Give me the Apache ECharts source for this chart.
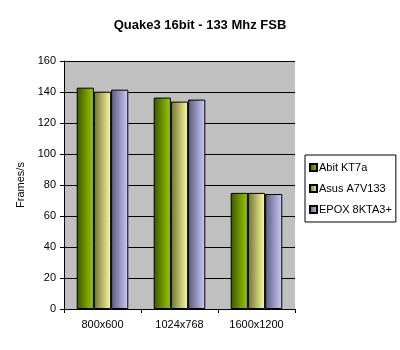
<!DOCTYPE html>
<html><head><meta charset="utf-8">
<script src="https://cdn.jsdelivr.net/npm/echarts@6/dist/echarts.min.js"></script>
<style>html,body{margin:0;padding:0;background:#fff}#c{width:400px;height:350px}</style>
</head><body><div id="c"></div>
<script>
var categories = ['800x600', '1024x768', '1600x1200'];
var seriesNames = ['Abit KT7a', 'Asus A7V133', 'EPOX 8KTA3+'];
var abit = [142.8, 136.4, 74.9];
var asus = [140.2, 133.8, 74.9];
var epox = [141.5, 135.1, 74.2];
var yTicks = [0, 20, 40, 60, 80, 100, 120, 140, 160];

function grad(dark, light) {
  return new echarts.graphic.LinearGradient(0, 0, 1, 0, [
    {offset: 0, color: dark}, {offset: 1, color: light}
  ]);
}
var colors = [grad('#3d5500', '#99cc00'), grad('#707038', '#ffff99'), grad('#5a5a78', '#ccccff')];
var data = [abit, asus, epox];

var chart = echarts.init(document.getElementById('c'));
chart.setOption({
  animation: false,
  title: {text: 'Quake3 16bit - 133 Mhz FSB', left: 'center', top: 14,
    textStyle: {fontFamily: 'Liberation Sans', fontSize: 13, fontWeight: 'bold', color: '#000'}},
  legend: {orient: 'vertical', left: 305, top: 155,
    backgroundColor: '#fff', borderColor: '#000', borderWidth: 1,
    padding: [7, 4, 7, 4], itemGap: 10, itemWidth: 7, itemHeight: 7, icon: 'rect',
    textStyle: {fontFamily: 'Liberation Sans', fontSize: 11, color: '#000', padding: [0, 0, 0, -3]},
    data: seriesNames},
  grid: {left: 64, right: 105, top: 61, bottom: 41, show: true, backgroundColor: '#c0c0c0', borderWidth: 0},
  xAxis: {type: 'category', data: categories,
    axisLine: {lineStyle: {color: '#000'}},
    axisTick: {show: true, length: 4, lineStyle: {color: '#000'}},
    axisLabel: {color: '#000', fontFamily: 'Liberation Sans', fontSize: 11, margin: 10}},
  yAxis: {type: 'value', min: 0, max: 160, interval: 20,
    name: 'Frames/s', nameLocation: 'middle', nameGap: 31, nameRotate: 90,
    nameTextStyle: {color: '#000', fontFamily: 'Liberation Sans', fontSize: 11},
    axisLine: {show: true, lineStyle: {color: '#000'}},
    axisTick: {show: true, length: 4, lineStyle: {color: '#000'}},
    axisLabel: {color: '#000', fontFamily: 'Liberation Sans', fontSize: 11, margin: 8,
      formatter: function (v) { return yTicks.indexOf(v) >= 0 ? String(v) : ''; }},
    splitLine: {show: true, lineStyle: {color: '#000', width: 1}}},
  series: seriesNames.map(function (n, i) {
    return {name: n, type: 'bar', data: data[i], barGap: '0%', barCategoryGap: '33%',
      itemStyle: {color: colors[i], borderColor: '#000', borderWidth: 1}};
  })
});
</script></body></html>
